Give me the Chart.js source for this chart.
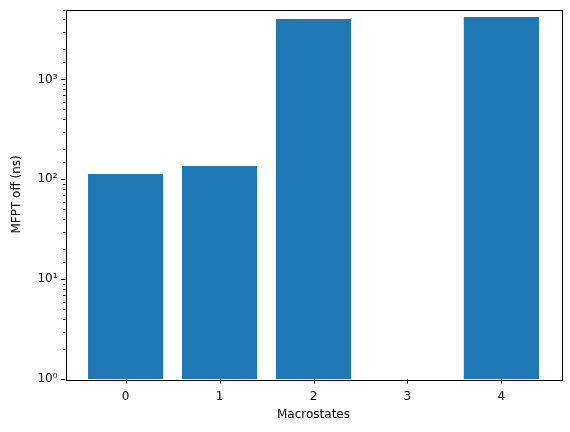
<!DOCTYPE html>
<html>
<head>
<meta charset="utf-8">
<script src="https://cdn.jsdelivr.net/npm/chart.js@4/dist/chart.umd.min.js"></script>
<style>
  html, body { margin: 0; padding: 0; background: #fff; }
  #wrap { width: 570px; height: 432px; }
</style>
</head>
<body>
<div id="wrap"><canvas id="mfptChart" width="570" height="432"></canvas></div>
<script>
// values
const macrostates = [0, 1, 2, 3, 4];
const mfptOff = [113, 136, 4010, null, 4200]; // state 3 has no bar
const xTicks = [0, 1, 2, 3, 4];
const supers = { 0: "⁰", 1: "¹", 2: "²", 3: "³" };

// matplotlib-ish frame + outward tick marks
const frameTicks = {
  id: "frameTicks",
  afterDraw(chart) {
    const ctx = chart.ctx;
    const a = chart.chartArea;
    const xs = chart.scales.x;
    const ys = chart.scales.y;
    ctx.save();
    ctx.strokeStyle = "#000";
    ctx.lineWidth = 1;
    ctx.beginPath();
    xs.ticks.forEach((t) => {
      const px = Math.round(xs.getPixelForValue(t.value)) + 0.5;
      ctx.moveTo(px, a.bottom);
      ctx.lineTo(px, a.bottom + 4.3);
    });
    ys.ticks.forEach((t) => {
      const lg = Math.log10(t.value);
      const major = Math.abs(lg - Math.round(lg)) < 1e-9;
      const py = Math.round(ys.getPixelForValue(t.value)) + 0.5;
      if (py < a.top - 0.5 || py > a.bottom + 0.5) return;
      ctx.moveTo(a.left, py);
      ctx.lineTo(a.left - (major ? 4.3 : 2.5), py);
    });
    ctx.stroke();
    ctx.strokeRect(Math.round(a.left) + 0.5, Math.round(a.top) + 0.5,
      Math.round(a.right - a.left), Math.round(a.bottom - a.top));
    ctx.restore();
  },
};

const ctx = document.getElementById("mfptChart").getContext("2d");
new Chart(ctx, {
  type: "bar",
  data: {
    datasets: [{
      data: macrostates.map((m, i) => ({ x: m, y: mfptOff[i] })),
      backgroundColor: "#1f77b4",
      borderWidth: 0,
      barPercentage: 0.8,
      categoryPercentage: 1.0,
    }],
  },
  options: {
    responsive: false,
    animation: false,
    layout: { padding: { top: 9.5, right: 8.5, left: 0, bottom: 0 } },
    plugins: { legend: { display: false }, tooltip: { enabled: false } },
    scales: {
      x: {
        type: "linear",
        offset: false,
        min: -0.64,
        max: 4.64,
        afterBuildTicks: (s) => { s.ticks = xTicks.map((v) => ({ value: v })); },
        afterFit: (s) => { s.height = 52.7; s.paddingLeft = 0; s.paddingRight = 0; },
        grid: { display: false, drawTicks: false, offset: false },
        border: { display: false },
        ticks: {
          color: "#000",
          padding: 10,
          maxRotation: 0,
          font: { family: "DejaVu Sans", size: 12 },
        },
        title: {
          display: true,
          text: "Macrostates",
          color: "#000",
          padding: { top: 0, bottom: 10 },
          font: { family: "DejaVu Sans", size: 12 },
        },
      },
      y: {
        type: "logarithmic",
        min: 1,
        max: 5000,
        afterFit: (s) => { s.width = 65.5; s.paddingTop = 0; s.paddingBottom = 0; },
        grid: { display: false, drawTicks: false },
        border: { display: false },
        ticks: {
          color: "#000",
          padding: 8,
          autoSkip: false,
          font: { family: "DejaVu Sans", size: 12 },
          callback: (v) => {
            const lg = Math.log10(v);
            if (Math.abs(lg - Math.round(lg)) > 1e-9) return "";
            return "10" + supers[Math.round(lg)];
          },
        },
        title: {
          display: true,
          text: "MFPT off (ns)",
          color: "#000",
          padding: { top: 10, bottom: 0 },
          font: { family: "DejaVu Sans", size: 12 },
        },
      },
    },
  },
  plugins: [frameTicks],
});
</script>
</body>
</html>
